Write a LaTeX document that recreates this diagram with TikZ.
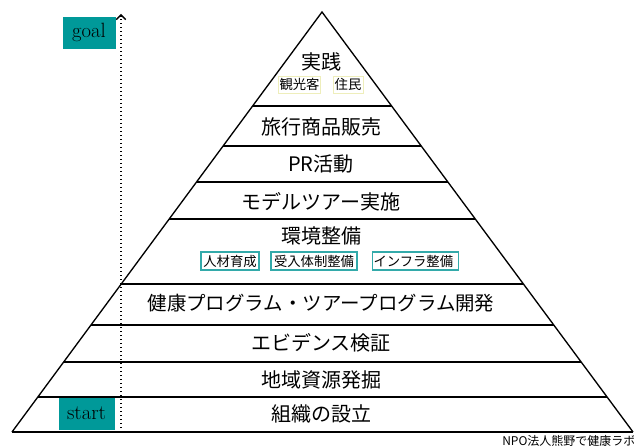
\documentclass[tikz,border=0pt]{standalone}
\usepackage{fontspec}
\newfontfamily\jp{Noto Sans CJK JP}
\usetikzlibrary{arrows.meta,calc}
\definecolor{tealbox}{HTML}{009999}
\definecolor{tealline}{HTML}{33AAAA}
\definecolor{yellowline}{HTML}{EEEEBB}
\tikzset{
  lvl/.style={font=\jp\fontsize{15}{17}\selectfont, inner sep=0pt},
  tagbox/.style={draw=tealbox, fill=tealbox, font=\fontsize{15.5}{17}\selectfont, inner sep=0pt},
  subbox/.style={draw=tealline, line width=0.8pt, font=\jp\fontsize{10}{12}\selectfont, inner sep=0pt, minimum height=13.5pt},
  ybox/.style={draw=yellowline, line width=0.6pt, font=\jp\fontsize{10}{12}\selectfont, inner sep=0pt, minimum height=12.75pt},
  sep/.style={line width=0.8pt}
}
\begin{document}
\begin{tikzpicture}[x=0.75pt,y=-0.75pt]
\useasboundingbox (0,0) rectangle (634,448);
\coordinate (apex) at (322,12);
\coordinate (bl) at (12,432);
\coordinate (br) at (633,432);
% level separators
\foreach \t in {0.2238,0.3190,0.4048,0.4929,0.6476,0.7452,0.8333,0.9167}{
  \draw[sep] ($(apex)!\t!(bl)$) -- ($(apex)!\t!(br)$);
}
\draw[line width=1pt] (bl) -- (apex) -- (br);
\draw[line width=1.6pt] (bl) -- (br);
% dotted arrow
\coordinate (vb) at (121,432);
\coordinate (vt) at (121,14);
\draw[dotted, line width=1pt, -{Straight Barb[length=3.5pt,width=7pt,line width=1pt]}] (vb) -- (vt);
% tags
\node[tagbox, minimum width=39pt, minimum height=23.25pt] (goal) at (89,32.5) {goal};
\node[tagbox, minimum width=41.25pt, minimum height=23.25pt] (start) at (86.5,413.5) {start};
% levels
\node[lvl] (l9) at (321,62) {実践};
\node[ybox, minimum width=32pt] (kanko) at (299.5,84.5) {観光客};
\node[ybox, minimum width=22.5pt] (jumin) at (348,84.5) {住民};
\node[lvl] (l8) at (321,127) {旅行商品販売};
\node[lvl] (l7) at (321,164) {PR活動};
\node[lvl] (l6) at (321,202) {モデルツアー実施};
\node[lvl] (l5) at (321,236) {環境整備};
\node[subbox, minimum width=43.5pt] (s1) at (230,261) {人材育成};
\node[subbox, minimum width=64.5pt] (s2) at (314,261) {受入体制整備};
\node[subbox, text width=63pt, align=left, inner xsep=1pt] (s3) at (415.5,261) {インフラ整備};
\node[lvl, font=\jp\fontsize{14.6}{17}\selectfont] (l4) at (321,303) {健康プログラム・ツアープログラム開発};
\node[lvl] (l3) at (321,343) {エビデンス検証};
\node[lvl] (l2) at (321,380) {地域資源発掘};
\node[lvl] (l1) at (321,414) {組織の設立};
\node[anchor=west, inner sep=0pt, font=\jp\fontsize{9}{10}\selectfont] (npo) at (502,441) {NPO法人熊野で健康ラボ};
\end{tikzpicture}
\end{document}
